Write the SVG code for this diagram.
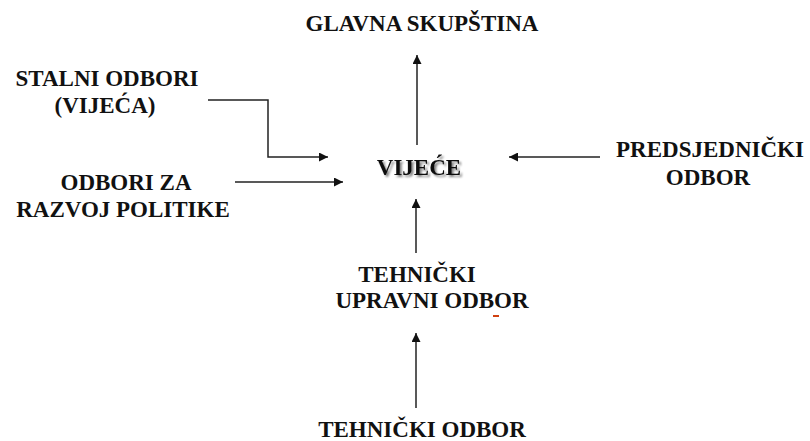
<svg xmlns="http://www.w3.org/2000/svg" width="810" height="441" viewBox="0 0 810 441">
<style>
text{font-family:'Liberation Serif','Times New Roman',serif;font-weight:700;font-size:23px;fill:#111;text-anchor:middle}
.c{fill:none;stroke:#222;stroke-width:1.5}
</style>
<defs>
<marker id="ah" viewBox="0 0 10 10" refX="10" refY="5" markerWidth="10" markerHeight="9" markerUnits="userSpaceOnUse" orient="auto"><path d="M0,0L10,5L0,10z" fill="#111"/></marker>
<filter id="sh" x="-10%" y="-30%" width="130%" height="170%"><feGaussianBlur in="SourceAlpha" stdDeviation="1.2"/><feOffset dx="1.5" dy="2" result="b"/><feComponentTransfer><feFuncA type="linear" slope="0.5"/></feComponentTransfer><feMerge><feMergeNode/><feMergeNode in="SourceGraphic"/></feMerge></filter>
</defs>
<rect width="810" height="441" fill="#fff"/>
<g id="connectors">
<path class="c" d="M417,145V55" marker-end="url(#ah)"/>
<path class="c" d="M208,100H268V157H328" marker-end="url(#ah)"/>
<path class="c" d="M235,182H343" marker-end="url(#ah)"/>
<path class="c" d="M600,157H509" marker-end="url(#ah)"/>
<path class="c" d="M416,253V199" marker-end="url(#ah)"/>
<path class="c" d="M416,408V333" marker-end="url(#ah)"/>
</g>
<g id="glavna"><text x="422" y="31">GLAVNA SKUPŠTINA</text></g>
<g id="stalni"><text x="107" y="86">STALNI ODBORI</text><text x="105" y="113">(VIJEĆA)</text></g>
<g id="odbori"><text x="126" y="190">ODBORI ZA</text><text x="123" y="217">RAZVOJ POLITIKE</text></g>
<g id="vijece"><text x="419" y="175" filter="url(#sh)">VIJEĆE</text></g>
<g id="predsjednicki"><text x="710" y="157">PREDSJEDNIČKI</text><text x="708" y="185">ODBOR</text></g>
<g id="tehnicki-upravni"><text x="417" y="282">TEHNIČKI</text><text x="432" y="308">UPRAVNI ODBOR</text></g>
<rect x="493" y="315" width="6" height="2" fill="#d04010"/>
<g id="tehnicki"><text x="422" y="437">TEHNIČKI ODBOR</text></g>
</svg>
